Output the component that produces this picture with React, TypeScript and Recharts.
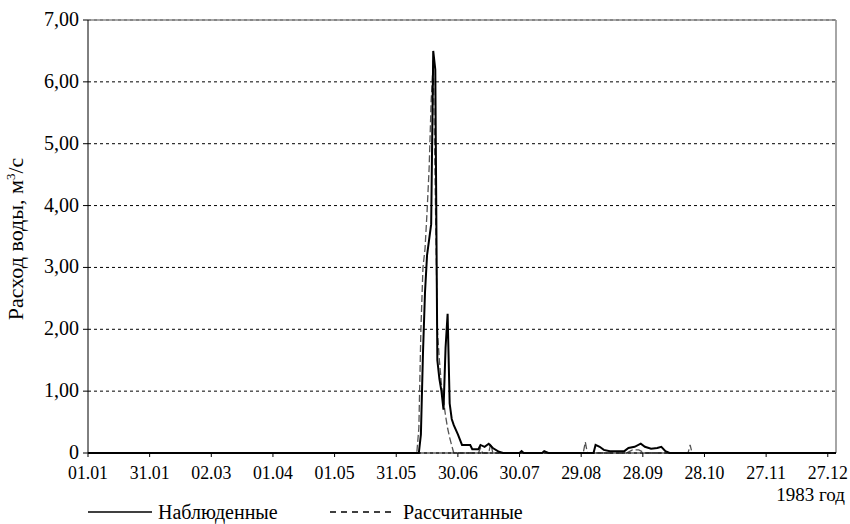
import React from 'react';
import { LineChart, Line, XAxis, YAxis, CartesianGrid, ReferenceLine } from 'recharts';

// day of year (0 = 01.01.1983) and water discharge, m3/s
const obsDays = [0, 161, 162, 163, 164, 165, 166, 167, 168, 169, 170, 171, 172, 173, 174, 175, 176, 177, 178, 180, 182, 186, 187, 190, 191, 193, 195, 197, 200, 202, 210, 211, 212, 221, 222, 224, 246, 247, 249, 251, 254, 261, 263, 266, 269, 271, 274, 277, 279, 281, 283, 364];
const obsFlow = [0, 0, 0.3, 1.6, 2.6, 3.2, 3.45, 3.7, 6.5, 6.2, 1.5, 1.2, 1.0, 0.7, 1.7, 2.25, 0.8, 0.55, 0.45, 0.3, 0.13, 0.13, 0.06, 0.06, 0.13, 0.1, 0.15, 0.08, 0.02, 0, 0, 0.03, 0, 0, 0.03, 0, 0, 0.13, 0.1, 0.05, 0.03, 0.03, 0.08, 0.1, 0.15, 0.1, 0.07, 0.08, 0.1, 0.03, 0, 0];

const calcDays = [0, 160, 161, 162, 163, 164, 165, 166, 167, 168, 169, 170, 171, 172, 173, 174, 175, 176, 177, 178, 190, 191, 192, 195, 196, 197, 241, 242, 243, 262, 265, 268, 271, 292, 293, 294, 364];
const calcFlow = [0, 0, 0.4, 2.0, 3.0, 3.3, 3.9, 4.6, 5.7, 6.35, 4.2, 2.0, 1.5, 1.1, 0.85, 0.6, 0.4, 0.25, 0.12, 0, 0, 0.08, 0, 0, 0.16, 0, 0, 0.18, 0, 0, 0.05, 0.05, 0, 0, 0.13, 0, 0];

const tickDays = [0, 30, 60, 90, 120, 150, 180, 210, 240, 270, 300, 330, 360];
const tickLabels = ['01.01', '31.01', '02.03', '01.04', '01.05', '31.05', '30.06', '30.07', '29.08', '28.09', '28.10', '27.11', '27.12'];
const yTicks = [0, 1, 2, 3, 4, 5, 6, 7];

const seriesNames = ['Наблюденные', 'Рассчитанные'];

const obsData = obsDays.map((d, i) => ({ day: d, q: obsFlow[i] }));
const calcData = calcDays.map((d, i) => ({ day: d, q: calcFlow[i] }));

const font = 'Liberation Serif, DejaVu Serif, serif';
const txt = { fontFamily: font };

const fmtY = (v: number) => (v === 0 ? '0' : v.toFixed(2).replace('.', ','));
const fmtX = (v: number) => tickLabels[tickDays.indexOf(v)] ?? '';

const XTick = (props: any) => {
  const { x, y, payload } = props;
  return (
    <text x={x} y={y + 20} textAnchor="middle" style={txt} fontSize={19} fill="#000" textLength={40} lengthAdjust="spacingAndGlyphs">
      {fmtX(payload.value)}
    </text>
  );
};

const YTick = (props: any) => {
  const { x, y, payload } = props;
  return (
    <text x={x} y={y + 6} textAnchor="end" style={txt} fontSize={20} fill="#000">
      {fmtY(payload.value)}
    </text>
  );
};

const YLabel = () => (
  <text x={23} y={239} transform="rotate(-90 23 239)" textAnchor="middle" style={txt} fontSize={22} fill="#000">
    Расход воды, м<tspan dy={-8} fontSize={13}>3</tspan><tspan dy={8}>/с</tspan>
  </text>
);

export default function App() {
  return (
    <div style={{ position: 'absolute', left: 0, top: 0, width: 850, height: 524, background: '#fff' }}>
      <LineChart width={850} height={524} margin={{ top: 20, right: 14, bottom: 31, left: 28 }}>
        <CartesianGrid vertical={false} stroke="#000" strokeDasharray="3 3" />
        <XAxis
          type="number"
          dataKey="day"
          domain={[0, 364]}
          ticks={tickDays}
          interval={0}
          height={40}
          stroke="#000"
          tickSize={4}
          tick={<XTick />}
          allowDataOverflow
        />
        <YAxis
          type="number"
          domain={[0, 7]}
          ticks={yTicks}
          width={60}
          stroke="#000"
          tickSize={5}
          tickMargin={4}
          tick={<YTick />}
          label={<YLabel />}
        />
        <ReferenceLine y={7} stroke="#888" strokeWidth={1.5} />
        <ReferenceLine x={364} stroke="#888" strokeWidth={1.5} />
        <Line data={calcData} dataKey="q" type="linear" stroke="#555" strokeWidth={1.3} strokeDasharray="7 3" dot={false} isAnimationActive={false} />
        <Line data={obsData} dataKey="q" type="linear" stroke="#000" strokeWidth={2} dot={false} isAnimationActive={false} />
      </LineChart>
      <svg width={850} height={524} style={{ position: 'absolute', left: 0, top: 0, pointerEvents: 'none' }}>
        <text x={845} y={501} textAnchor="end" style={txt} fontSize={19} fill="#000">1983 год</text>
        <line x1={88} x2={152} y1={512} y2={512} stroke="#000" strokeWidth={1.3} />
        <text x={158} y={519} style={txt} fontSize={20} fill="#000">{seriesNames[0]}</text>
        <line x1={330} x2={392} y1={512} y2={512} stroke="#000" strokeWidth={1.3} strokeDasharray="6 5" />
        <text x={403} y={519} style={txt} fontSize={20} fill="#000">{seriesNames[1]}</text>
      </svg>
    </div>
  );
}
